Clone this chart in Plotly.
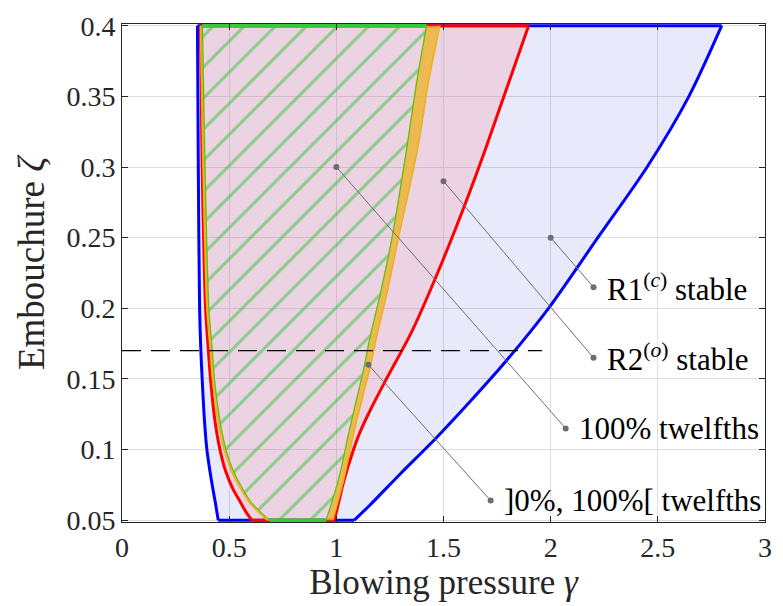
import plotly.graph_objects as go

# ---------------- data ----------------
# R1(c) stable region (blue): left edge top->bottom, right edge bottom->top
r1_left_y = [0.4, 0.3, 0.2, 0.17, 0.15, 0.12, 0.1, 0.085, 0.073, 0.062, 0.05]
r1_left_x = [0.352, 0.356, 0.362, 0.368, 0.374, 0.385, 0.396, 0.41, 0.423, 0.436, 0.449]
r1_right_y = [0.05, 0.0605, 0.0828, 0.1086, 0.131, 0.1625, 0.2, 0.25, 0.3, 0.35, 0.4]
r1_right_x = [1.083, 1.155, 1.298, 1.468, 1.606, 1.791, 1.99, 2.22, 2.45, 2.645, 2.798]

# R2(o) stable region (red)
r2_left_y = [0.4, 0.3, 0.2, 0.17, 0.15, 0.12, 0.1, 0.085, 0.073, 0.063, 0.056, 0.05]
r2_left_x = [0.366, 0.374, 0.390, 0.403, 0.413, 0.434, 0.457, 0.483, 0.515, 0.552, 0.578, 0.606]
r2_right_y = [0.05, 0.0594, 0.078, 0.1, 0.1133, 0.13, 0.1484, 0.1835, 0.2234, 0.2726, 0.3136, 0.4]
r2_right_x = [0.99, 1.006, 1.035, 1.08, 1.113, 1.165, 1.228, 1.352, 1.468, 1.598, 1.698, 1.897]

# ]0%,100%[ twelfths region (orange): outer edges
tw_left_y = [0.4, 0.3, 0.2, 0.17, 0.15, 0.12, 0.1, 0.085, 0.073, 0.063, 0.056, 0.05]
tw_left_x = [0.366, 0.378, 0.396, 0.412, 0.422, 0.448, 0.476, 0.510, 0.551, 0.592, 0.636, 0.679]
tw_right_y = [0.05, 0.078, 0.113, 0.16, 0.18, 0.21, 0.25, 0.3136, 0.36, 0.4]
tw_right_x = [0.983, 1.033, 1.083, 1.16, 1.188, 1.235, 1.29, 1.38, 1.43, 1.483]

# 100% twelfths region (green hatched)
full_left_y = [0.4, 0.3, 0.2, 0.17, 0.15, 0.12, 0.1, 0.085, 0.073, 0.063, 0.056, 0.05]
full_left_x = [0.375, 0.387, 0.405, 0.421, 0.431, 0.457, 0.485, 0.519, 0.560, 0.601, 0.645, 0.688]
full_right_y = [0.05, 0.078, 0.113, 0.16, 0.18, 0.21, 0.25, 0.3136, 0.36, 0.4]
full_right_x = [0.952, 1.009, 1.06, 1.132, 1.158, 1.205, 1.26, 1.329, 1.375, 1.421]

# dashed reference line
ref_y = 0.17
ref_x = [0.0, 1.96]

# annotations
ann_text = ["R1<sup>(<i>c</i>)</sup> stable", "R2<sup>(<i>o</i>)</sup> stable",
            "100% twelfths", "]0%, 100%[ twelfths"]
ann_from_x = [2.0, 1.5, 1.0, 1.15]
ann_from_y = [0.25, 0.29, 0.3, 0.16]
ann_to_x = [2.2, 2.2, 2.07, 1.72]
ann_to_y = [0.215, 0.165, 0.115, 0.064]

x_ticks = [0, 0.5, 1, 1.5, 2, 2.5, 3]
x_ticktext = ["0", "0.5", "1", "1.5", "2", "2.5", "3"]
y_ticks = [0.05, 0.1, 0.15, 0.2, 0.25, 0.3, 0.35, 0.4]
y_ticktext = ["0.05", "0.1", "0.15", "0.2", "0.25", "0.3", "0.35", "0.4"]

# ---------------- figure ----------------
FONT = "Liberation Serif"
BLUE = "#0000FF"
RED = "#FF0000"
ORANGE = "#EDB120"
GREEN = "#33CC33"
GRAY = "#6E6E6E"

fig = go.Figure()


def loop(xa, ya, xb, yb):
    xs = list(xa) + list(xb)
    ys = list(ya) + list(yb)
    return xs + [xs[0]], ys + [ys[0]]


def add_fill(xs, ys, color, pattern=None):
    kw = {}
    if pattern is not None:
        kw["fillpattern"] = pattern
    fig.add_trace(go.Scatter(x=xs, y=ys, mode="lines", fill="toself",
                             fillcolor=color, line=dict(width=0),
                             hoverinfo="skip", **kw))


def add_edge(xs, ys, color, width, shape="spline"):
    fig.add_trace(go.Scatter(x=xs, y=ys, mode="lines",
                             line=dict(color=color, width=width, shape=shape,
                                       smoothing=0.8),
                             hoverinfo="skip"))


def add_region(lx, ly, rx, ry, fillcolor, color, width, pattern=None,
               edge_tb=True):
    px, py = loop(lx, ly, rx, ry)
    add_fill(px, py, fillcolor, pattern)
    add_edge(lx, ly, color, width)
    add_edge(rx, ry, color, width)
    if edge_tb:
        add_edge([lx[-1], rx[0]], [ly[-1], ry[0]], color, width, "linear")
        add_edge([rx[-1], lx[0]], [ry[-1], ly[0]], color, width, "linear")


# blue region
add_region(r1_left_x, r1_left_y, r1_right_x, r1_right_y,
           "rgba(30,50,220,0.10)", BLUE, 3)
# red region
add_region(r2_left_x, r2_left_y, r2_right_x, r2_right_y,
           "rgba(255,120,140,0.20)", RED, 3)
# orange bands between outer ]0%,100%[ edge and the 100% edge
add_region(tw_left_x, tw_left_y, full_left_x[::-1], full_left_y[::-1],
           "rgba(237,177,32,0.75)", ORANGE, 1.6, edge_tb=False)
add_region(tw_right_x, tw_right_y, full_right_x[::-1], full_right_y[::-1],
           "rgba(237,177,32,0.75)", ORANGE, 1.6, edge_tb=False)
# green hatched region
add_region(full_left_x, full_left_y, full_right_x, full_right_y,
           "rgba(0,0,0,0)", GREEN, 1,
           pattern=dict(shape="/", fgcolor="#2EC42E", bgcolor="rgba(0,0,0,0)",
                        size=22, solidity=0.14),
           edge_tb=False)
# thick green top and bottom edges
add_edge([full_left_x[0], full_right_x[-1]],
         [full_left_y[0], full_right_y[-1]], GREEN, 3.5, "linear")
add_edge([full_left_x[-1], full_right_x[0]],
         [full_left_y[-1], full_right_y[0]], GREEN, 3.5, "linear")

# dashed line
fig.add_trace(go.Scatter(x=ref_x, y=[ref_y, ref_y], mode="lines",
                         line=dict(color="black", width=1.3, dash="19px,10px"),
                         hoverinfo="skip"))
# annotation leader lines + labels
for i in range(len(ann_text)):
    fig.add_trace(go.Scatter(x=[ann_from_x[i], ann_to_x[i]],
                             y=[ann_from_y[i], ann_to_y[i]],
                             mode="lines+markers",
                             line=dict(color=GRAY, width=1),
                             marker=dict(color=GRAY, size=6),
                             hoverinfo="skip"))
    fig.add_annotation(x=ann_to_x[i], y=ann_to_y[i], text=ann_text[i],
                       showarrow=False, xanchor="left", yanchor="middle",
                       xshift=11, font=dict(family=FONT, size=31, color="black"))

# y-axis title placed like the reference
fig.add_annotation(text="Embouchure <i>ζ</i>", xref="paper", yref="paper",
                   x=-0.1415, y=0.522, textangle=-90, showarrow=False,
                   xanchor="center", yanchor="middle",
                   font=dict(family=FONT, size=37, color="#262626"))

axis_common = dict(showgrid=True, gridcolor="#DFDFDF", gridwidth=1,
                   ticks="inside", ticklen=6, tickcolor="#262626",
                   showline=True, linecolor="#262626", linewidth=1,
                   mirror="ticks", zeroline=False,
                   tickfont=dict(family=FONT, size=28, color="#262626"))

fig.update_layout(
    width=783, height=606,
    margin=dict(l=122, r=11, t=20, b=84),
    paper_bgcolor="white", plot_bgcolor="white",
    showlegend=False,
    font=dict(family=FONT, color="#262626"),
    xaxis=dict(range=[0, 3], tickvals=x_ticks, ticktext=x_ticktext,
               title=dict(text="Blowing pressure <i>γ</i>",
                          font=dict(family=FONT, size=35, color="#262626"),
                          standoff=4),
               **axis_common),
    yaxis=dict(range=[0.05 - 0.0012, 0.4 + 0.0012], tickvals=y_ticks,
               ticktext=y_ticktext, **axis_common),
)

fig.write_html("out.html")
